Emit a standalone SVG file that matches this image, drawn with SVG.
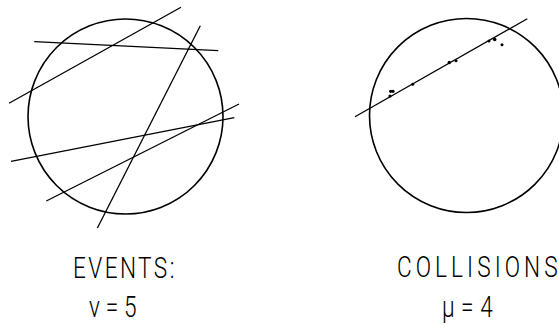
<svg xmlns="http://www.w3.org/2000/svg" width="559" height="324" viewBox="0 0 559 324">
<style>
.c{fill:none;stroke:#000;stroke-width:1.6}
.l{stroke:#000;stroke-width:1.3;fill:none}
.d{fill:#000}
.t{font-family:Roboto,"DejaVu Sans",sans-serif;font-weight:300;font-size:29px;fill:#000}
</style>
<rect width="559" height="324" fill="#fff"/>
<g id="events">
<circle class="c" cx="125.5" cy="116.5" r="97.5"/>
<g id="tracks">
<line class="l" x1="34.3" y1="41.7" x2="218.3" y2="50.7"/>
<line class="l" x1="9" y1="103.3" x2="181" y2="7.3"/>
<line class="l" x1="200.3" y1="25.7" x2="97.4" y2="228"/>
<line class="l" x1="11" y1="161.3" x2="234.3" y2="117.7"/>
<line class="l" x1="46.3" y1="201" x2="239" y2="104"/>
</g>
<g transform="translate(73,278) scale(0.78,1)"><text class="t" x="0" y="0" textLength="130" lengthAdjust="spacing">EVENTS:</text></g>
<g transform="translate(89,317) scale(0.78,1)"><text class="t" x="0" y="0" textLength="61" lengthAdjust="spacing">ν=5</text></g>
</g>
<g id="collisions">
<circle class="c" cx="466.5" cy="115.5" r="97"/>
<line class="l" x1="355" y1="116.7" x2="527.3" y2="18.7"/>
<g id="dots">
<circle class="d" cx="390" cy="96" r="1.6"/>
<circle class="d" cx="390.7" cy="91.3" r="1.6"/>
<circle class="d" cx="393" cy="91.3" r="1.6"/>
<circle class="d" cx="412.7" cy="84.3" r="1.5"/>
<circle class="d" cx="449.3" cy="62.5" r="1.7"/>
<circle class="d" cx="456" cy="60.7" r="1.5"/>
<circle class="d" cx="489" cy="41" r="1.5"/>
<circle class="d" cx="494.7" cy="39.5" r="1.8"/>
<circle class="d" cx="502" cy="44.7" r="1.5"/>
</g>
<g transform="translate(397,277) scale(0.78,1)"><text class="t" x="0" y="0" textLength="206" lengthAdjust="spacing">COLLISIONS</text></g>
<g transform="translate(442,317) scale(0.78,1)"><text class="t" x="0" y="0" textLength="65" lengthAdjust="spacing">μ=4</text></g>
</g>
</svg>
